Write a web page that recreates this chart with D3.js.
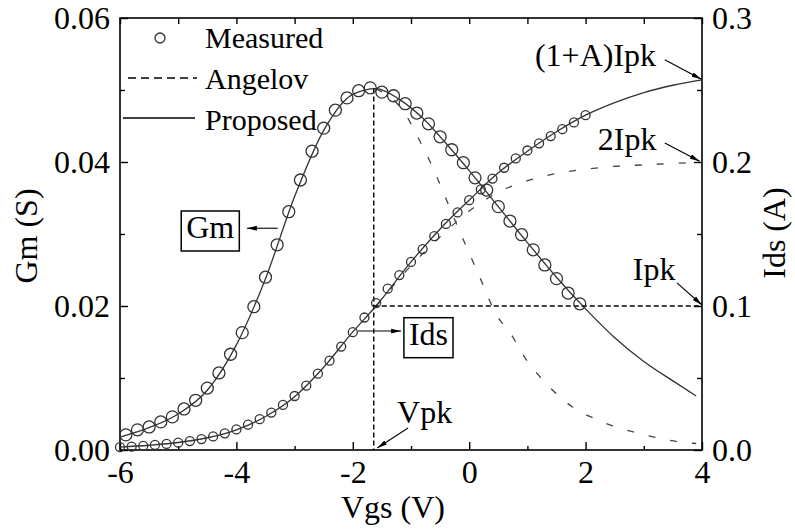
<!DOCTYPE html>
<html lang="en">
<head>
<meta charset="utf-8">
<title>Gm and Ids vs Vgs</title>
<script src="https://d3js.org/d3.v7.min.js"></script>
<style>
  body { margin: 0; background-color: #fff; }
  svg { background-color: #fff; font-family: "Liberation Serif", "Times New Roman", serif; }
  .tick line { stroke: #000; stroke-width: 1.4; }
  .curve { fill: none; stroke: #333; stroke-width: 1.3; }
  .dash { fill: none; stroke: #444; stroke-width: 1.3; stroke-dasharray: 7,15; }
  .meas { fill: none; stroke: #333; stroke-width: 1.3; }
  .guide { fill: none; stroke: #000; stroke-width: 1.4; stroke-dasharray: 5,3; }
  .arrow { stroke: #000; stroke-width: 1.1; }
  .lbl { font-size: 32px; fill: #000; }
</style>
</head>
<body>
<script>

// measured Gm (S)
var gmMeasV = [-5.9, -5.7, -5.5, -5.3, -5.1, -4.9, -4.7, -4.5, -4.3, -4.1,
               -3.9, -3.7, -3.5, -3.3, -3.1, -2.9, -2.7, -2.5, -2.3, -2.1,
               -1.9, -1.7, -1.5, -1.3, -1.1, -0.9, -0.7, -0.5, -0.3, -0.1,
                0.1, 0.3, 0.5, 0.7, 0.9, 1.1, 1.3, 1.5, 1.7, 1.9];
var gmMeas = [0.0021, 0.0028, 0.0032, 0.0039, 0.0046, 0.0057, 0.0069, 0.0086, 0.0107, 0.0133,
              0.0163, 0.0199, 0.0240, 0.0285, 0.0331, 0.0375, 0.0415, 0.0447, 0.0472, 0.0489,
              0.0499, 0.0503, 0.0497, 0.0492, 0.0481, 0.0468, 0.0453, 0.0435, 0.0417, 0.0399,
              0.0378, 0.0361, 0.0338, 0.0318, 0.0299, 0.0278, 0.0257, 0.0238, 0.0218, 0.0203];

// measured Ids (A)
var idsMeasV = [-6.0, -5.8, -5.6, -5.4, -5.2, -5.0, -4.8, -4.6, -4.4, -4.2,
                -4.0, -3.8, -3.6, -3.4, -3.2, -3.0, -2.8, -2.6, -2.4, -2.2,
                -2.0, -1.8, -1.6, -1.4, -1.2, -1.0, -0.8, -0.6, -0.4, -0.2,
                 0.0, 0.2, 0.4, 0.6, 0.8, 1.0, 1.2, 1.4, 1.6, 1.8, 2.0];
var idsMeas = [0.0020, 0.0024, 0.0029, 0.0035, 0.0042, 0.0051, 0.0062, 0.0076, 0.0094, 0.0116,
               0.0143, 0.0176, 0.0214, 0.0260, 0.0313, 0.0375, 0.0447, 0.0530, 0.0620, 0.0718,
               0.0818, 0.0920, 0.1020, 0.1120, 0.1215, 0.1306, 0.1395, 0.1485, 0.1570, 0.1650,
               0.1735, 0.1810, 0.1885, 0.1960, 0.2025, 0.2080, 0.2130, 0.2180, 0.2228, 0.2275, 0.2325];

// proposed model
var gmPropV = [-6, -5.5, -5, -4.5, -4, -3.5, -3, -2.5, -2, -1.6, -1.2, -0.8, -0.4, 0, 0.5, 1, 1.5, 2, 2.5, 3, 3.5, 3.9];
var gmProp = [0.0018, 0.0031, 0.0050, 0.0083, 0.0146, 0.0238, 0.0352, 0.0444, 0.0494, 0.0502, 0.0487,
              0.0461, 0.0426, 0.0388, 0.0338, 0.0288, 0.0240, 0.0196, 0.0156, 0.0123, 0.0096, 0.0075];
var idsPropV = [-6, -5.5, -5, -4.5, -4, -3.5, -3, -2.5, -2, -1.6, -1, -0.5, 0, 0.5, 1, 1.5, 2, 2.5, 3, 3.5, 4];
var idsProp = [0.0020, 0.0033, 0.0052, 0.0085, 0.0140, 0.0233, 0.0370, 0.0575, 0.0820, 0.1000, 0.1306,
               0.1535, 0.1735, 0.1925, 0.2075, 0.2210, 0.2325, 0.2412, 0.2482, 0.2533, 0.2570];

// Angelov model (beyond the peak)
var gmAngV = [-1.6, -1.07, -0.93, -0.67, -0.55, -0.16, 0.15, 0.49, 0.70, 0.96, 1.35, 1.77, 2.2, 2.56, 3.02, 3.4, 3.74, 3.9];
var gmAng = [0.0502, 0.0463, 0.0442, 0.0400, 0.0378, 0.0303, 0.0246, 0.0185, 0.0163, 0.0128, 0.0090,
             0.0060, 0.0042, 0.0031, 0.0021, 0.0014, 0.0010, 0.0009];
var idsAngV = [-1.6, -1, -0.5, 0, 0.5, 1, 1.5, 2, 2.5, 3, 3.5, 4];
var idsAng = [0.100, 0.128, 0.148, 0.166, 0.179, 0.187, 0.192, 0.195, 0.197, 0.198, 0.199, 0.200];

var vpk = -1.64, gmPk = 0.0502, ipk = 0.1;

var xTicks = [-6, -4, -2, 0, 2, 4];
var xMinor = [-5, -3, -1, 1, 3];
var gmTicks = [0, 0.02, 0.04, 0.06];
var gmMinor = [0.01, 0.03, 0.05];
var idsTicks = [0, 0.1, 0.2, 0.3];
var idsMinor = [0.05, 0.15, 0.25];

var FONT = '"Liberation Serif", "Times New Roman", serif';
var W = 795, H = 531;
var m = {left: 120, top: 18, right: 93, bottom: 81};
var w = W - m.left - m.right, h = H - m.top - m.bottom;

var svg = d3.select("body").append("svg").attr("width", W).attr("height", H);
var g = svg.append("g").attr("transform", "translate(" + m.left + "," + m.top + ")");

var x = d3.scaleLinear().domain([-6, 4]).range([0, w]);
var yG = d3.scaleLinear().domain([0, 0.06]).range([h, 0]);
var yI = d3.scaleLinear().domain([0, 0.3]).range([h, 0]);

var defs = svg.append("defs");
defs.append("marker").attr("id", "ah")
  .attr("viewBox", "0 0 10 6").attr("refX", 10).attr("refY", 3)
  .attr("markerWidth", 10).attr("markerHeight", 6)
  .attr("markerUnits", "userSpaceOnUse").attr("orient", "auto")
  .append("path").attr("d", "M0,0.6L10,3L0,5.4Z").attr("fill", "#000");

// axes
function strip(sel) {
  sel.select(".domain").remove();
  sel.attr("font-family", FONT).attr("font-size", 32);
  sel.selectAll("text").style("font-family", FONT).style("font-size", "32px").attr("fill", "#000");
}
g.append("g").attr("transform", "translate(0," + h + ")")
  .call(d3.axisBottom(x).tickValues(xTicks).tickSize(-8).tickPadding(10).tickFormat(function(d) { return String(d); }))
  .call(strip);
g.append("g").attr("transform", "translate(0," + h + ")")
  .call(d3.axisBottom(x).tickValues(xMinor).tickSize(-4).tickFormat(""))
  .call(strip);
g.append("g")
  .call(d3.axisTop(x).tickValues(xTicks.concat(xMinor)).tickSize(-6).tickFormat(""))
  .call(strip);
g.append("g")
  .call(d3.axisLeft(yG).tickValues(gmTicks).tickSize(-8).tickPadding(10).tickFormat(d3.format(".2f")))
  .call(strip);
g.append("g")
  .call(d3.axisLeft(yG).tickValues(gmMinor).tickSize(-5).tickFormat(""))
  .call(strip);
g.append("g").attr("transform", "translate(" + w + ",0)")
  .call(d3.axisRight(yI).tickValues(idsTicks).tickSize(-8).tickPadding(10).tickFormat(d3.format(".1f")))
  .call(strip);
g.append("g").attr("transform", "translate(" + w + ",0)")
  .call(d3.axisRight(yI).tickValues(idsMinor).tickSize(-5).tickFormat(""))
  .call(strip);

g.append("rect").attr("width", w).attr("height", h)
  .attr("fill", "none").attr("stroke", "#000").attr("stroke-width", 1.6);

// curves
var lineG = d3.line().x(function(d) { return x(d[0]); }).y(function(d) { return yG(d[1]); }).curve(d3.curveMonotoneX);
var lineI = d3.line().x(function(d) { return x(d[0]); }).y(function(d) { return yI(d[1]); }).curve(d3.curveMonotoneX);

g.append("path").attr("class", "dash").attr("d", lineG(d3.zip(gmAngV, gmAng)));
g.append("path").attr("class", "dash").attr("d", lineI(d3.zip(idsAngV, idsAng)));
g.append("path").attr("class", "curve").attr("d", lineG(d3.zip(gmPropV, gmProp)));
g.append("path").attr("class", "curve").attr("d", lineI(d3.zip(idsPropV, idsProp)));

// Vpk / Ipk guides
g.append("line").attr("class", "guide")
  .attr("x1", x(vpk)).attr("x2", x(vpk)).attr("y1", yG(gmPk)).attr("y2", h);
g.append("line").attr("class", "guide")
  .attr("x1", x(vpk)).attr("x2", w).attr("y1", yI(ipk)).attr("y2", yI(ipk));

// measured points
g.selectAll(".mg").data(d3.zip(gmMeasV, gmMeas)).enter().append("circle")
  .attr("class", "meas").attr("cx", function(d) { return x(d[0]); }).attr("cy", function(d) { return yG(d[1]); }).attr("r", 6);
g.selectAll(".mi").data(d3.zip(idsMeasV, idsMeas)).enter().append("circle")
  .attr("class", "meas").attr("cx", function(d) { return x(d[0]); }).attr("cy", function(d) { return yI(d[1]); }).attr("r", 4.5);

// annotations (text in Ids units, arrows from -> to)
var notes = [
  {t: "Vpk", v: -1.24, i: 0.0188, a: [-1.05, 0.0153, -1.58, 0.0014]},
  {t: "Ipk", v: 2.81, i: 0.118, a: [3.57, 0.116, 4.0, 0.1007]},
  {t: "2Ipk", v: 2.21, i: 0.2083, a: [3.36, 0.2132, 3.96, 0.2005]},
  {t: "(1+A)Ipk", v: 1.13, i: 0.267, a: [3.36, 0.271, 3.99, 0.2575]}
];
notes.forEach(function(n) {
  g.append("text").attr("class", "lbl").attr("x", x(n.v)).attr("y", yI(n.i)).text(n.t);
  g.append("line").attr("class", "arrow")
    .attr("x1", x(n.a[0])).attr("y1", yI(n.a[1])).attr("x2", x(n.a[2])).attr("y2", yI(n.a[3]))
    .attr("marker-end", "url(#ah)");
});

// boxed labels
var boxes = [
  {t: "Gm", v: -4.45, i: yI.invert(yG(0.031)), a: [-3.29, yI.invert(yG(0.0308)), -3.82, yI.invert(yG(0.0308))]},
  {t: "Ids", v: -0.70, i: 0.0809, a: [-1.91, 0.0826, -1.17, 0.0826]}
];
boxes.forEach(function(b) {
  var t = g.append("text").attr("class", "lbl").attr("x", x(b.v)).attr("y", yI(b.i))
    .attr("text-anchor", "middle").attr("dy", "0.35em").text(b.t);
  var bb = t.node().getBBox();
  g.insert("rect", function() { return t.node(); })
    .attr("x", bb.x - 5).attr("y", bb.y + 2).attr("width", bb.width + 10).attr("height", bb.height + 4)
    .attr("fill", "#fff").attr("stroke", "#000").attr("stroke-width", 1.5);
  g.append("line").attr("class", "arrow")
    .attr("x1", x(b.a[0])).attr("y1", yI(b.a[1])).attr("x2", x(b.a[2])).attr("y2", yI(b.a[3]))
    .attr("marker-end", "url(#ah)");
});

// legend
var leg = g.append("g").attr("font-size", "30px");
leg.append("circle").attr("class", "meas").attr("cx", 40).attr("cy", 20).attr("r", 5);
leg.append("line").attr("x1", 8).attr("x2", 77).attr("y1", 60).attr("y2", 60)
  .attr("stroke", "#000").attr("stroke-width", 1.3).attr("stroke-dasharray", "8,5");
leg.append("line").attr("x1", 3).attr("x2", 75).attr("y1", 100).attr("y2", 100)
  .attr("stroke", "#000").attr("stroke-width", 1.3);
["Measured", "Angelov", "Proposed"].forEach(function(s, i) {
  leg.append("text").attr("x", 85).attr("y", 30 + i * 41).text(s);
});

// axis titles
svg.append("text").attr("class", "lbl").attr("font-size", "33px").attr("text-anchor", "middle")
  .attr("transform", "translate(37,236) rotate(-90)").text("Gm (S)");
svg.append("text").attr("class", "lbl").attr("font-size", "33px").attr("text-anchor", "middle")
  .attr("transform", "translate(785,233) rotate(-90)").text("Ids (A)");
svg.append("text").attr("class", "lbl").attr("font-size", "33px").attr("text-anchor", "middle")
  .attr("x", 393).attr("y", 518).text("Vgs (V)");

</script>
</body>
</html>
